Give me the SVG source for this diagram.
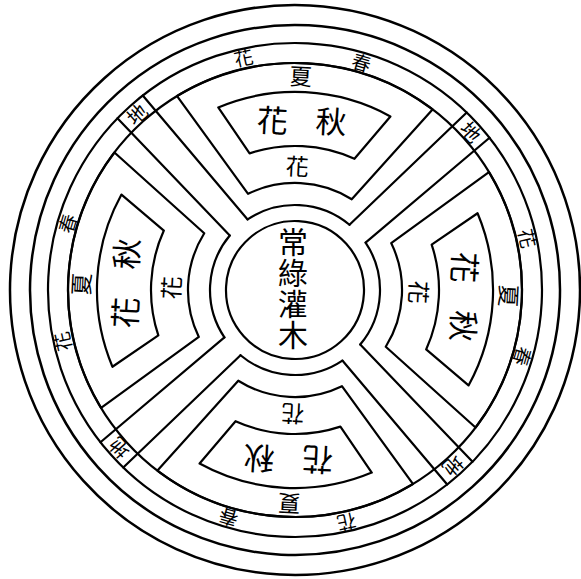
<svg xmlns="http://www.w3.org/2000/svg" width="581" height="579" viewBox="0 0 581 579">
<style>
.ln{fill:none;stroke:#000;stroke-width:2.2;stroke-linecap:round;stroke-linejoin:round}
.ol{fill:none;stroke:#000;stroke-width:2.5}
text{font-family:"Noto Sans CJK TC","Noto Sans CJK SC",sans-serif;fill:#000;text-anchor:middle;dominant-baseline:central}
.m{font-size:31px}
.s{font-size:23px}
.r{font-size:19px}
.b{font-size:20px}
.c{font-size:30px;writing-mode:vertical-rl;letter-spacing:1px}
</style>
<rect width="581" height="579" fill="#fff"/>
<g id="plan" transform="translate(295,290) rotate(3)">
  <g id="rings">
    <circle r="285" class="ol"/>
    <circle r="265" class="ol"/>
    <circle r="247" class="ln"/>
    <circle r="227" class="ln"/>
  </g>
  <g id="center-bed">
    <circle r="69" class="ln"/>
    <path class="ln" d="M -51 -68 A 85 85 0 0 1 51 -68 M 68 -51 A 85 85 0 0 1 68 51 M 51 68 A 85 85 0 0 1 -51 68 M -68 51 A 85 85 0 0 1 -68 -51"/>
  </g>
  <g id="connectors">
    <g id="path-nw">
      <path class="ln" d="M -51 -68 L -162.2 -186.3 M -68 -51 L -186.3 -162.2"/>
      <text class="b" transform="translate(-167.6,-167.6) rotate(-45)">地</text>
    </g>
    <g id="path-ne" transform="rotate(90)">
      <path class="ln" d="M -51 -68 L -162.2 -186.3 M -68 -51 L -186.3 -162.2"/>
      <text class="b" transform="translate(-167.6,-167.6) rotate(-45)">地</text>
    </g>
    <g id="path-se" transform="rotate(180)">
      <path class="ln" d="M -51 -68 L -162.2 -186.3 M -68 -51 L -186.3 -162.2"/>
      <text class="b" transform="translate(-167.6,-167.6) rotate(-45)">地</text>
    </g>
    <g id="path-sw" transform="rotate(270)">
      <path class="ln" d="M -51 -68 L -162.2 -186.3 M -68 -51 L -186.3 -162.2"/>
      <text class="b" transform="translate(-167.6,-167.6) rotate(-45)">地</text>
    </g>
  </g>
  <g id="bed-top">
    <path class="ln" d="M -127.9 -187.5 A 227 227 0 0 1 127.9 -187.5 L 51.9 -93.6 A 107 107 0 0 0 -51.9 -93.6 Z"/>
    <path class="ln" d="M -86.2 -178.3 A 198 198 0 0 1 86.2 -178.3 L 52.5 -134.1 A 144 144 0 0 0 -52.5 -134.1 Z"/>
    <text class="m" transform="translate(-31.5,-170.1)">花</text>
    <text class="m" transform="translate(27.2,-171.9)">秋</text>
    <text class="s" transform="translate(-5.6,-214.9)">夏</text>
    <text class="s" transform="translate(-4.4,-124.9)">花</text>
    <text class="r" transform="translate(-63.9,-230.3) rotate(-15.5)">花</text>
    <text class="r" transform="translate(54.8,-231.6) rotate(13.3)">春</text>
  </g>
  <g id="bed-right" transform="rotate(90)">
    <path class="ln" d="M -127.9 -187.5 A 227 227 0 0 1 127.9 -187.5 L 51.9 -93.6 A 107 107 0 0 0 -51.9 -93.6 Z"/>
    <path class="ln" d="M -86.2 -178.3 A 198 198 0 0 1 86.2 -178.3 L 52.5 -134.1 A 144 144 0 0 0 -52.5 -134.1 Z"/>
    <text class="m" transform="translate(-31.5,-170.1)">花</text>
    <text class="m" transform="translate(27.2,-171.9)">秋</text>
    <text class="s" transform="translate(-5.6,-214.9)">夏</text>
    <text class="s" transform="translate(-4.4,-124.9)">花</text>
    <text class="r" transform="translate(-63.9,-230.3) rotate(-15.5)">花</text>
    <text class="r" transform="translate(54.8,-231.6) rotate(13.3)">春</text>
  </g>
  <g id="bed-bottom" transform="rotate(180)">
    <path class="ln" d="M -127.9 -187.5 A 227 227 0 0 1 127.9 -187.5 L 51.9 -93.6 A 107 107 0 0 0 -51.9 -93.6 Z"/>
    <path class="ln" d="M -86.2 -178.3 A 198 198 0 0 1 86.2 -178.3 L 52.5 -134.1 A 144 144 0 0 0 -52.5 -134.1 Z"/>
    <text class="m" transform="translate(-31.5,-170.1)">花</text>
    <text class="m" transform="translate(27.2,-171.9)">秋</text>
    <text class="s" transform="translate(-5.6,-214.9)">夏</text>
    <text class="s" transform="translate(-4.4,-124.9)">花</text>
    <text class="r" transform="translate(-63.9,-230.3) rotate(-15.5)">花</text>
    <text class="r" transform="translate(54.8,-231.6) rotate(13.3)">春</text>
  </g>
  <g id="bed-left" transform="rotate(270)">
    <path class="ln" d="M -127.9 -187.5 A 227 227 0 0 1 127.9 -187.5 L 51.9 -93.6 A 107 107 0 0 0 -51.9 -93.6 Z"/>
    <path class="ln" d="M -86.2 -178.3 A 198 198 0 0 1 86.2 -178.3 L 52.5 -134.1 A 144 144 0 0 0 -52.5 -134.1 Z"/>
    <text class="m" transform="translate(-31.5,-170.1)">花</text>
    <text class="m" transform="translate(27.2,-171.9)">秋</text>
    <text class="s" transform="translate(-5.6,-214.9)">夏</text>
    <text class="s" transform="translate(-4.4,-124.9)">花</text>
    <text class="r" transform="translate(-63.9,-230.3) rotate(-15.5)">花</text>
    <text class="r" transform="translate(54.8,-231.6) rotate(13.3)">春</text>
  </g>
</g>
<g id="center-label">
  <text class="c" x="293" y="289">常綠灌木</text>
</g>
</svg>
